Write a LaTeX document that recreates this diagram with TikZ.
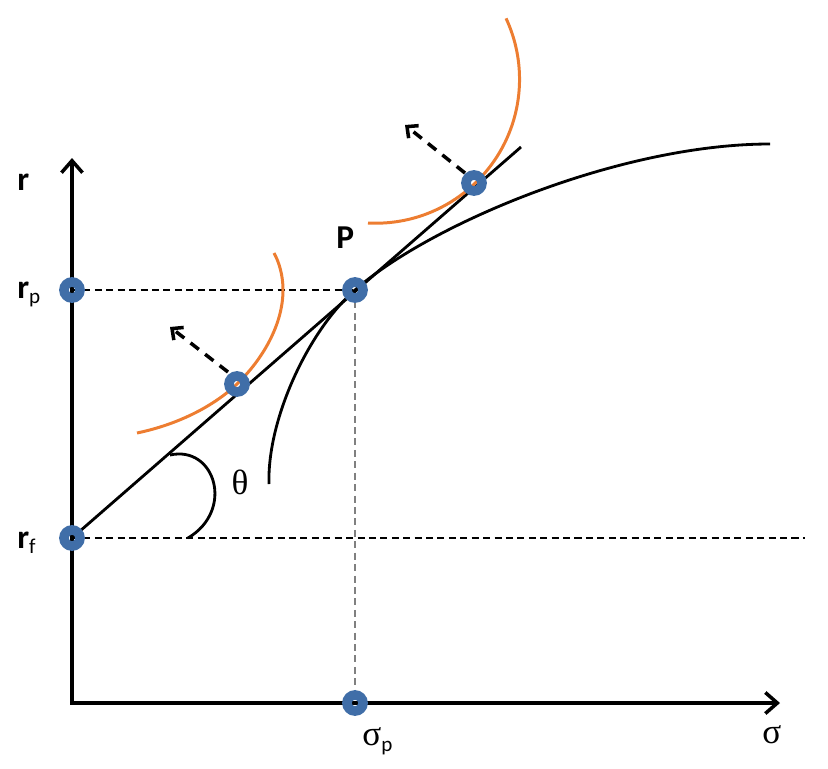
\documentclass[tikz,border=0pt]{standalone}
\usepackage{fontspec}
\setmainfont{Carlito}
\newfontfamily\grk{Liberation Serif}
\usetikzlibrary{arrows.meta}

\definecolor{ringblue}{RGB}{64,110,168}
\definecolor{indorange}{RGB}{237,125,49}

\begin{document}
\begin{tikzpicture}[
    x=0.02cm, y=-0.02cm,
    axis/.style={line width=2pt, {Straight Barb[length=2.4mm,width=4.2mm]}-{Straight Barb[length=2.4mm,width=4.2mm]}},
    guide/.style={line width=0.7pt, dash pattern=on 4pt off 2.5pt},
    curveline/.style={line width=1.6pt},
    indiff/.style={draw=indorange, line width=1.7pt},
    push/.style={line width=2pt, dash pattern=on 6pt off 4.5pt, -{Straight Barb[length=1.7mm,width=3.2mm]}},
    ring/.style={circle, draw=ringblue, line width=5.5pt, minimum size=0.32cm, inner sep=0pt},
    lbl/.style={font=\fontsize{19}{21}\selectfont\bfseries, inner sep=0pt}
]
\useasboundingbox (0,0) rectangle (828,768);

% Points
\coordinate (O) at (72,703);
\coordinate (ytop) at (72,158);
\coordinate (xend) at (780,703);
\coordinate (rp) at (72,290);
\coordinate (rf) at (72,538);
\coordinate (P) at (355,290);
\coordinate (sp) at (355,703);
\coordinate (rfend) at (805,538);
\coordinate (tend) at (521,147);
\coordinate (lo) at (237,384);
\coordinate (hi) at (474,183);

% Guides
\draw[guide] (rp) -- (P);
\draw[guide, gray] (P) -- (sp);
\draw[guide] (rf) -- (rfend);

% Axes
\draw[axis] (ytop) -- (O) -- (xend);

% Tangent line and frontier
\draw[curveline] (rf) -- (tend);
\draw[curveline] (269,484) .. controls (267,420) and (308,331) .. (P)
    .. controls (430,224) and (620,144) .. (770,144);

% Angle
\draw[curveline] (170,455) .. controls (215,445) and (235,510) .. (188,538);

% Indifference curves
\draw[indiff] (137,433) .. controls (180,424) and (215,405) .. (lo)
    .. controls (262,360) and (283,325) .. (283,290)
    .. controls (283,275) and (279,262) .. (274,253);
\draw[indiff] (368,223) arc[start angle=93, end angle=-25, radius=144];

% Arrows
\draw[push] (228,372) -- (170,327);
\draw[push] (465,173) -- (405,125);

% Markers
\foreach \p in {rp, rf, P, sp, lo, hi}
  \node[ring] at (\p) {};

% Labels
\node[lbl, anchor=base west] (lr) at (17,190) {r};
\node[lbl, anchor=base west] (lrp) at (17,298) {r\raisebox{-0.35ex}{\fontsize{12}{13}\mdseries\selectfont p}};
\node[lbl, anchor=base west] (lrf) at (17,548) {r\raisebox{-0.35ex}{\fontsize{12}{13}\mdseries\selectfont f}};
\node[lbl, anchor=base west] (lP) at (336,248) {P};
\node[inner sep=0pt, anchor=base west] (lsp) at (362,745) {\fontsize{20}{22}\selectfont\grk σ\raisebox{-0.4ex}{\fontsize{12}{13}\selectfont\rmfamily p}};
\node[inner sep=0pt, anchor=base west] (ls) at (762,743) {\fontsize{20}{22}\selectfont\grk σ};
\node[inner sep=0pt] (lt) at (240,482) {\fontsize{20}{22}\selectfont\grk θ};

\end{tikzpicture}
\end{document}
